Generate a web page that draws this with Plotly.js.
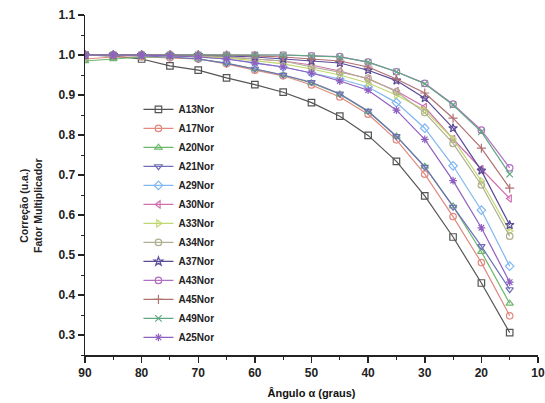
<!DOCTYPE html>
<html>
<head>
<meta charset="utf-8">
<script src="https://cdn.plot.ly/plotly-3.0.1.min.js"></script>
<style>html,body{margin:0;padding:0;background:#fff}#chart{width:545px;height:403px}</style>
</head>
<body>
<div id="chart"></div>
<script>
const angles = [90,85,80,75,70,65,60,55,50,45,40,35,30,25,20,15];

const A13 = [1.000,0.997,0.990,0.973,0.962,0.943,0.926,0.907,0.881,0.847,0.799,0.734,0.648,0.545,0.430,0.306];
const A17 = [0.990,0.995,0.995,0.993,0.990,0.978,0.962,0.948,0.925,0.895,0.852,0.788,0.702,0.596,0.481,0.348];
const A20 = [0.985,0.990,0.995,0.995,0.990,0.980,0.965,0.950,0.930,0.902,0.858,0.797,0.721,0.622,0.508,0.379];
const A21 = [1.000,1.000,0.998,0.995,0.990,0.979,0.965,0.950,0.932,0.903,0.860,0.797,0.720,0.620,0.522,0.414];
const A29 = [1.000,1.000,1.000,0.998,0.995,0.990,0.980,0.970,0.955,0.940,0.920,0.881,0.817,0.723,0.612,0.472];
const A30 = [1.000,1.000,1.000,1.000,0.998,0.995,0.990,0.985,0.975,0.960,0.940,0.910,0.870,0.790,0.715,0.641];
const A33 = [1.000,1.000,1.000,0.998,0.996,0.992,0.986,0.978,0.965,0.950,0.930,0.900,0.862,0.790,0.685,0.560];
const A34 = [1.000,1.000,1.000,1.000,0.998,0.995,0.990,0.985,0.970,0.957,0.942,0.908,0.856,0.779,0.675,0.547];
const A37 = [1.000,1.000,1.000,1.000,1.000,0.998,0.995,0.990,0.985,0.980,0.962,0.936,0.892,0.817,0.711,0.575];
const A43 = [1.000,1.000,1.000,1.000,1.000,1.000,1.000,1.000,0.998,0.996,0.982,0.958,0.929,0.877,0.812,0.718];
const A45 = [1.000,1.000,1.000,1.000,1.000,1.000,0.998,0.995,0.990,0.985,0.970,0.940,0.905,0.842,0.767,0.667];
const A49 = [1.000,1.000,1.000,1.000,1.000,1.000,1.000,1.000,0.998,0.995,0.982,0.958,0.928,0.875,0.808,0.702];
const A25 = [1.000,1.000,1.000,0.998,0.995,0.990,0.980,0.970,0.955,0.935,0.912,0.862,0.789,0.686,0.568,0.432];

const names   = ['A13Nor','A17Nor','A20Nor','A21Nor','A29Nor','A30Nor','A33Nor','A34Nor','A37Nor','A43Nor','A45Nor','A49Nor','A25Nor'];
const series  = [A13,A17,A20,A21,A29,A30,A33,A34,A37,A43,A45,A49,A25];
const colors  = ['#555555','#e08a80','#6cb86c','#7070b8','#80b8f0','#d070b0','#c0d870','#b0b090','#5a4a98','#b070c0','#b07070','#60a880','#9060c0'];
const symbols = ['square-open','circle-open','triangle-up-open','triangle-down-open','diamond-open','triangle-left-open','triangle-right-open','circle-open','star-open','circle-open','cross-thin-open','x-thin-open','asterisk-open'];

const yTitle = 'Correção (u.a.)<br>Fator Multiplicador';
const xTitle = 'Ângulo α (graus)';

const traces = series.map((ys,i) => ({
  x: angles, y: ys, name: names[i], type: 'scatter', mode: 'lines+markers',
  line: {color: colors[i], width: 1.2},
  marker: {symbol: symbols[i], size: 6.5, color: colors[i], line: {color: colors[i], width: 1.2}}
}));

const FAM = 'Liberation Sans, Arial, sans-serif';
const tickFont = {family: FAM, size: 12, color: '#222', weight: 'bold'};

const layout = {
  width: 545, height: 403,
  margin: {l: 85, r: 7, t: 15, b: 48},
  paper_bgcolor: '#fff', plot_bgcolor: '#fff',
  showlegend: true,
  legend: {x: 0.118, y: 0.765, xanchor: 'left', yanchor: 'top', bgcolor: 'rgba(0,0,0,0)',
           font: {family: FAM, size: 10, color: '#222', weight: 'bold'},
           tracegroupgap: 0, itemwidth: 30},
  annotations: [{
    text: yTitle, xref: 'paper', yref: 'paper', x: -0.118, y: 0.44,
    xanchor: 'center', yanchor: 'middle', textangle: -90, showarrow: false,
    font: {family: FAM, size: 10.5, color: '#222', weight: 'bold'}
  }],
  xaxis: {
    range: [90, 10], autorange: false, dtick: 10, tick0: 10,
    showgrid: false, zeroline: false, showline: true, linecolor: '#222', linewidth: 1.5,
    ticks: 'outside', ticklen: 6, tickwidth: 1.5, tickcolor: '#222',
    minor: {dtick: 5, ticks: 'outside', ticklen: 3, tickwidth: 1, tickcolor: '#222', showgrid: false},
    tickfont: tickFont,
    title: {text: xTitle, font: {family: FAM, size: 11, color: '#111', weight: 'bold'}, standoff: 10}
  },
  yaxis: {
    range: [0.25, 1.1], autorange: false, dtick: 0.1, tick0: 0.3, tickformat: '.1f',
    showgrid: false, zeroline: false, showline: true, linecolor: '#222', linewidth: 1.5,
    ticks: 'outside', ticklen: 6, tickwidth: 1.5, tickcolor: '#222',
    minor: {dtick: 0.05, ticks: 'outside', ticklen: 3, tickwidth: 1, tickcolor: '#222', showgrid: false},
    tickfont: tickFont
  }
};

Plotly.newPlot('chart', traces, layout, {displayModeBar: false, staticPlot: true});
</script>
</body>
</html>
